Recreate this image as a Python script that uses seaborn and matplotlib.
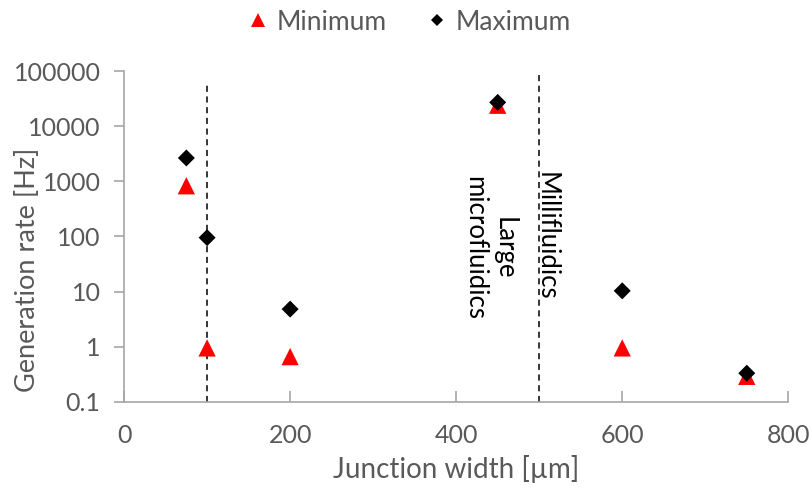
import matplotlib
matplotlib.use("Agg")
import matplotlib.pyplot as plt
import seaborn as sns
import pandas as pd
from matplotlib.ticker import FixedLocator, FixedFormatter, NullLocator

# Data
widths = [75, 100, 200, 450, 600, 750]
minimum = [830, 0.95, 0.66, 24000, 0.95, 0.29]
maximum = [2650, 95, 4.8, 27000, 10.3, 0.33]
series_names = ["Minimum", "Maximum"]
x_ticks = [0, 200, 400, 600, 800]
y_ticks = [0.1, 1, 10, 100, 1000, 10000, 100000]
y_tick_labels = ["0.1", "1", "10", "100", "1000", "10000", "100000"]
boundaries = [100, 500]
region_labels = ["Large\nmicrofluidics", "Millifluidics"]

df = pd.DataFrame({
    "Junction width": widths + widths,
    "Rate": minimum + maximum,
    "Series": ["Minimum"] * len(widths) + ["Maximum"] * len(widths),
})

sns.set_theme(style="white")
plt.rcParams["font.family"] = ["Lato", "DejaVu Sans"]

fig = plt.figure(figsize=(8.11, 4.90), dpi=100)
ax = fig.add_axes([0.153, 0.18, 0.819, 0.675])

grey = "#595959"
spine_grey = "#a6a6a6"

sns.scatterplot(
    data=df, x="Junction width", y="Rate", hue="Series", style="Series", size="Series",
    hue_order=series_names, style_order=series_names, size_order=series_names,
    palette={"Minimum": "#ff0000", "Maximum": "#000000"},
    markers={"Minimum": "^", "Maximum": "D"},
    sizes={"Minimum": 155, "Maximum": 75},
    linewidth=0, ax=ax, zorder=3, legend=True,
)

ax.set_yscale("log")
ax.set_xlim(0, 800)
ax.set_ylim(0.1, 100000)

for xb, ytop in zip(boundaries, [56000, 85000]):
    ax.plot([xb, xb], [0.1, ytop], color="black", linestyle=(0, (4, 3)), linewidth=1.1, zorder=2)

ax.text(440, 62, region_labels[0], rotation=-90, ha="center", va="center",
        fontsize=18.5, color="black", linespacing=1.2)
ax.text(508, 100, region_labels[1], rotation=-90, ha="center", va="center",
        fontsize=18.5, color="black")

ax.xaxis.set_major_locator(FixedLocator(x_ticks))
ax.yaxis.set_major_locator(FixedLocator(y_ticks))
ax.yaxis.set_major_formatter(FixedFormatter(y_tick_labels))
ax.yaxis.set_minor_locator(NullLocator())

ax.tick_params(axis="both", which="major", labelsize=18, labelcolor=grey,
               color=spine_grey, width=1.2)
ax.tick_params(axis="y", left=True, direction="out", length=7, pad=10)
ax.tick_params(axis="x", bottom=True, direction="in", length=8, pad=16)

for side in ["top", "right"]:
    ax.spines[side].set_visible(False)
for side in ["left", "bottom"]:
    ax.spines[side].set_color(spine_grey)
    ax.spines[side].set_linewidth(1.2)

ax.set_xlabel("Junction width [µm]", fontsize=20, color=grey)
ax.set_ylabel("Generation rate [Hz]", fontsize=19.5, color=grey)
ax.xaxis.set_label_coords(0.5, -0.16)
ax.yaxis.set_label_coords(-0.127, 0.40)

handles, labels = ax.get_legend_handles_labels()
leg = ax.legend(handles, labels, loc="center", bbox_to_anchor=(0.425, 1.148),
                ncol=2, frameon=False, fontsize=19, handletextpad=0.1,
                columnspacing=1.3, handlelength=1.2)
for t in leg.get_texts():
    t.set_color(grey)
legend_marker_sizes = [9.5, 6.0]
for h, ms in zip(leg.legend_handles, legend_marker_sizes):
    if hasattr(h, "set_markersize"):
        h.set_markersize(ms)
    elif hasattr(h, "set_sizes"):
        h.set_sizes([ms ** 2])

fig.savefig("out.png", dpi=100)
